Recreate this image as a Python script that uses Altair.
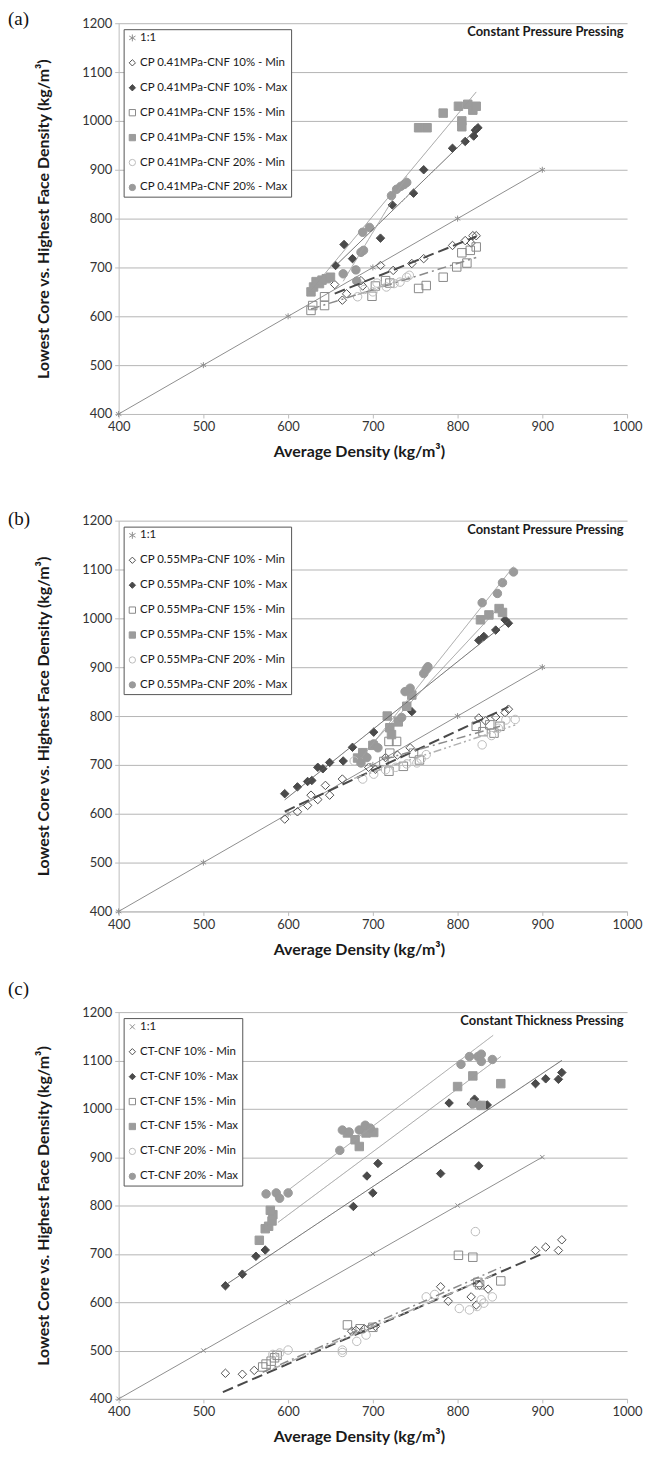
import altair as alt
import pandas as pd

FONT = "Lato"

# 1:1 reference line
ONE_X = [400, 500, 600, 700, 800, 900]
ONE_Y = [400, 500, 600, 700, 800, 900]

X_TICKS = [400, 500, 600, 700, 800, 900, 1000]
Y_TICKS = [400, 500, 600, 700, 800, 900, 1000, 1100, 1200]

# ---------------- Panel (a): CP 0.41 MPa ----------------
A_LABELS = ["CP 0.41MPa-CNF 10% - Min", "CP 0.41MPa-CNF 10% - Max",
            "CP 0.41MPa-CNF 15% - Min", "CP 0.41MPa-CNF 15% - Max",
            "CP 0.41MPa-CNF 20% - Min", "CP 0.41MPa-CNF 20% - Max"]
A_10MIN_X = [655, 664, 669, 686, 688, 709, 724, 746, 760, 794, 809, 816, 818, 822]
A_10MIN_Y = [665, 633, 646, 673, 662, 704, 694, 708, 718, 745, 755, 750, 765, 765]
A_10MAX_X = [656, 666, 676, 709, 723, 748, 760, 794, 809, 819, 821, 824]
A_10MAX_Y = [704, 747, 718, 760, 828, 852, 900, 944, 958, 969, 981, 986]
A_15MIN_X = [627, 629, 643, 643, 699, 703, 715, 720, 754, 763, 783, 799, 811, 805, 815, 822]
A_15MIN_Y = [612, 622, 622, 640, 641, 662, 673, 668, 657, 663, 680, 701, 709, 730, 735, 742]
A_15MAX_X = [627, 630, 633, 637, 640, 645, 650, 754, 764, 783, 801, 805, 805, 812, 818, 822]
A_15MAX_Y = [650, 660, 671, 667, 674, 677, 680, 986, 986, 1016, 1030, 1000, 988, 1034, 1022, 1030]
A_20MIN_X = [682, 690, 700, 705, 716, 725, 732, 740, 743]
A_20MIN_Y = [640, 655, 650, 668, 660, 667, 670, 680, 684]
A_20MAX_X = [665, 680, 681, 686, 689, 688, 696, 722, 728, 733, 737, 740]
A_20MAX_Y = [687, 695, 672, 731, 735, 772, 782, 847, 860, 866, 870, 874]

# ---------------- Panel (b): CP 0.55 MPa ----------------
B_LABELS = ["CP 0.55MPa-CNF 10% - Min", "CP 0.55MPa-CNF 10% - Max",
            "CP 0.55MPa-CNF 15% - Min", "CP 0.55MPa-CNF 15% - Max",
            "CP 0.55MPa-CNF 20% - Min", "CP 0.55MPa-CNF 20% - Max"]
B_10MIN_X = [596, 611, 623, 627, 635, 644, 649, 664, 695, 703, 715, 729, 744, 825, 833, 845, 856, 860]
B_10MIN_Y = [589, 604, 617, 638, 629, 658, 638, 671, 695, 691, 715, 720, 735, 796, 790, 798, 807, 814]
B_10MAX_X = [596, 611, 623, 628, 635, 641, 649, 665, 676, 701, 746, 825, 831, 845, 856, 860]
B_10MAX_Y = [641, 655, 666, 668, 695, 692, 705, 708, 736, 767, 809, 955, 963, 976, 997, 990]
B_15MIN_X = [713, 719, 720, 719, 728, 736, 748, 755, 822, 830, 843, 850, 838]
B_15MIN_Y = [707, 687, 724, 748, 748, 697, 724, 710, 779, 768, 765, 779, 782]
B_15MAX_X = [682, 688, 700, 717, 720, 722, 730, 740, 746, 827, 837, 849, 853]
B_15MAX_Y = [714, 725, 740, 800, 776, 762, 788, 820, 843, 997, 1007, 1020, 1012]
B_20MIN_X = [678, 688, 701, 715, 727, 740, 752, 757, 763, 829, 840, 848, 857, 868]
B_20MIN_Y = [708, 671, 681, 690, 695, 702, 704, 712, 721, 741, 760, 775, 792, 793]
B_20MAX_X = [686, 688, 693, 701, 706, 734, 738, 744, 760, 763, 765, 829, 847, 853, 866]
B_20MAX_Y = [704, 724, 715, 743, 735, 797, 850, 857, 887, 896, 901, 1032, 1051, 1073, 1095]

# ---------------- Panel (c): Constant thickness ----------------
C_LABELS = ["CT-CNF 10% - Min", "CT-CNF 10% - Max",
            "CT-CNF 15% - Min", "CT-CNF 15% - Max",
            "CT-CNF 20% - Min", "CT-CNF 20% - Max"]
C_10MIN_X = [526, 546, 560, 675, 680, 690, 703, 780, 789, 816, 822, 826, 836, 892, 904, 919, 923]
C_10MIN_Y = [453, 451, 459, 540, 542, 545, 550, 632, 602, 611, 594, 635, 627, 707, 714, 707, 729]
C_10MAX_X = [526, 546, 562, 573, 677, 693, 700, 706, 780, 790, 816, 820, 825, 835, 892, 904, 919, 923]
C_10MAX_Y = [634, 658, 695, 708, 798, 861, 826, 887, 866, 1012, 1010, 1020, 882, 1008, 1052, 1062, 1061, 1075]
C_15MIN_X = [570, 574, 580, 584, 587, 670, 685, 700, 801, 818, 824, 826, 851]
C_15MIN_Y = [466, 472, 478, 485, 490, 553, 545, 548, 697, 693, 641, 636, 644]
C_15MAX_X = [566, 573, 577, 581, 582, 579, 670, 679, 684, 692, 701, 800, 818, 828, 851]
C_15MAX_Y = [728, 752, 757, 768, 781, 790, 950, 936, 922, 950, 951, 1046, 1068, 1007, 1052]
C_20MIN_X = [582, 590, 600, 664, 664, 681, 692, 763, 773, 802, 814, 823, 831, 841, 821, 828]
C_20MIN_Y = [492, 495, 501, 501, 496, 519, 532, 611, 616, 587, 584, 591, 598, 611, 746, 605]
C_20MAX_X = [574, 586, 590, 600, 661, 664, 672, 684, 691, 697, 804, 814, 824, 828, 828, 841, 818, 826]
C_20MAX_Y = [824, 826, 815, 826, 914, 956, 952, 956, 966, 960, 1092, 1108, 1108, 1113, 1098, 1102, 1010, 1007]

# Trendline end points of panel (c) (start, end)
C_FIT_X = [[523, 900], [523, 923], [570, 851], [588, 851], [582, 841], [595, 842]]
C_FIT_Y = [[414, 700], [632, 1100], [455, 672], [765, 1108], [462, 655], [825, 1152]]

STAR = "M-1,-0.6L1,0.6M-1,0.6L1,-0.6M0,-1.1L0,1.1"
CROSS = "M-0.8,-0.8L0.8,0.8M-0.8,0.8L0.8,-0.8"

SHAPES = ["diamond", "diamond", "square", "square", "circle", "circle"]
FILLS = ["transparent", "#4a4a4a", "transparent", "#9c9c9c", "transparent", "#9a9a9a"]
STROKES = ["#505050", "#4a4a4a", "#8a8a8a", "#9c9c9c", "#bcbcbc", "#9a9a9a"]
LINE_COLORS = ["#4a4a4a", "#5a5a5a", "#8a8a8a", "#9a9a9a", "#b0b0b0", "#a0a0a0"]
LINE_DASH = [[11, 5], [1, 0], [9, 4, 2, 4], [1, 0], [8, 3, 2, 3, 2, 3], [1, 0]]
LINE_WIDTH = [2, 1, 1.5, 1, 1.5, 1]

Y_TITLE = "Lowest Core vs. Highest Face Density (kg/m³)"
X_TITLE = "Average Density (kg/m³)"
W = 510


def panel(tag, tag_dy, labels, xs, ys, onemark, note, height, fits=None):
    rows = []
    for x, y in zip(ONE_X, ONE_Y):
        rows.append({"series": "1:1", "x": x, "y": y})
    for lab, sx, sy in zip(labels, xs, ys):
        for x, y in zip(sx, sy):
            rows.append({"series": lab, "x": x, "y": y})
    df = pd.DataFrame(rows)
    dom = ["1:1"] + labels

    xenc = alt.X("x:Q", scale=alt.Scale(domain=[400, 1000], nice=False),
                 axis=alt.Axis(values=X_TICKS, grid=False, title=X_TITLE, format="d",
                               labelFlush=False, titleX=241, titlePadding=10, tickSize=4,
                               labelPadding=3, domainColor="#bdbdbd",
                               tickColor="#bdbdbd"))
    yenc = alt.Y("y:Q", scale=alt.Scale(domain=[400, 1200], nice=False),
                 axis=alt.Axis(values=Y_TICKS, grid=True, title=Y_TITLE, format="d",
                               labelFlush=False, titlePadding=30, tickSize=4, labelPadding=3,
                               domainColor="#bdbdbd", tickColor="#bdbdbd"))

    base = alt.Chart(df)
    one = base.transform_filter(alt.datum.series == "1:1")
    one_line = one.mark_line(color="#8f8f8f", strokeWidth=1).encode(x=xenc, y=yenc)
    one_pts = one.mark_point(shape=onemark, size=30, filled=False, color="#8f8f8f",
                             strokeWidth=1, opacity=1).encode(x=xenc, y=yenc)

    leg = alt.Legend(title=None, orient="none", legendX=5, legendY=6)
    pts = base.transform_filter(alt.datum.series != "1:1").mark_point(
        filled=True, opacity=1, strokeWidth=1, size=72).encode(
        x=xenc, y=yenc,
        shape=alt.Shape("series:N", scale=alt.Scale(domain=dom, range=[onemark] + SHAPES),
                        legend=leg),
        fill=alt.Fill("series:N", scale=alt.Scale(domain=dom, range=["transparent"] + FILLS),
                      legend=leg),
        stroke=alt.Stroke("series:N", scale=alt.Scale(domain=dom, range=["#8f8f8f"] + STROKES),
                          legend=leg),
    )

    lines = []
    for i, lab in enumerate(labels):
        style = dict(color=LINE_COLORS[i], strokeWidth=LINE_WIDTH[i], strokeDash=LINE_DASH[i])
        if fits is None:
            ln = base.transform_filter(alt.datum.series == lab).transform_regression(
                "x", "y").mark_line(**style).encode(x=xenc, y=yenc)
        else:
            fdf = pd.DataFrame({"x": fits[0][i], "y": fits[1][i]})
            ln = alt.Chart(fdf).mark_line(**style).encode(x=xenc, y=yenc)
        lines.append(ln)

    ann = alt.Chart(pd.DataFrame({"x": [996], "y": [1181], "t": [note]})).mark_text(
        align="right", baseline="middle", font=FONT, fontWeight="bold",
        fontSize=13, color="#1a1a1a").encode(x=xenc, y=yenc, text="t:N")

    tag_mark = alt.Chart(pd.DataFrame({"t": [tag]})).mark_text(
        align="left", baseline="middle", font="Liberation Serif", fontSize=19,
        color="#111111").encode(x=alt.value(-111), y=alt.value(tag_dy), text="t:N")

    ch = alt.layer(one_line, one_pts, pts, *lines, ann, tag_mark).properties(
        width=W, height=height)
    return ch


pa = panel("(a)", -4, A_LABELS,
           [A_10MIN_X, A_10MAX_X, A_15MIN_X, A_15MAX_X, A_20MIN_X, A_20MAX_X],
           [A_10MIN_Y, A_10MAX_Y, A_15MIN_Y, A_15MAX_Y, A_20MIN_Y, A_20MAX_Y],
           STAR, "Constant Pressure Pressing", 392)
pb = panel("(b)", -2, B_LABELS,
           [B_10MIN_X, B_10MAX_X, B_15MIN_X, B_15MAX_X, B_20MIN_X, B_20MAX_X],
           [B_10MIN_Y, B_10MAX_Y, B_15MIN_Y, B_15MAX_Y, B_20MIN_Y, B_20MAX_Y],
           STAR, "Constant Pressure Pressing", 392)
pc = panel("(c)", -23, C_LABELS,
           [C_10MIN_X, C_10MAX_X, C_15MIN_X, C_15MAX_X, C_20MIN_X, C_20MAX_X],
           [C_10MIN_Y, C_10MAX_Y, C_15MIN_Y, C_15MAX_Y, C_20MIN_Y, C_20MAX_Y],
           CROSS, "Constant Thickness Pressing", 388, fits=(C_FIT_X, C_FIT_Y))

RES = dict(shape="independent", fill="independent", stroke="independent")
top = alt.vconcat(pa, pb, spacing=50).resolve_scale(**RES).resolve_legend(**RES)
chart = alt.vconcat(top, pc, spacing=23).resolve_scale(**RES).resolve_legend(**RES
).configure_view(stroke=None).configure_axis(
    labelFont=FONT, labelFontSize=13, labelColor="#333333",
    titleFont=FONT, titleFontSize=16, titleFontWeight="bold", titleColor="#1a1a1a",
    gridColor="#b5b5b5", gridWidth=1,
).configure_legend(
    labelFont=FONT, labelFontSize=11.5, labelColor="#1a1a1a", labelLimit=400,
    strokeColor="#555555", fillColor="white", padding=3, rowPadding=12,
    symbolSize=40, symbolStrokeWidth=1, labelOffset=2, cornerRadius=0,
).properties(background="white",
             padding={"left": 0, "right": 0, "top": 0, "bottom": 0})

chart.save("out.html", embed_options={"renderer": "svg", "actions": False})
